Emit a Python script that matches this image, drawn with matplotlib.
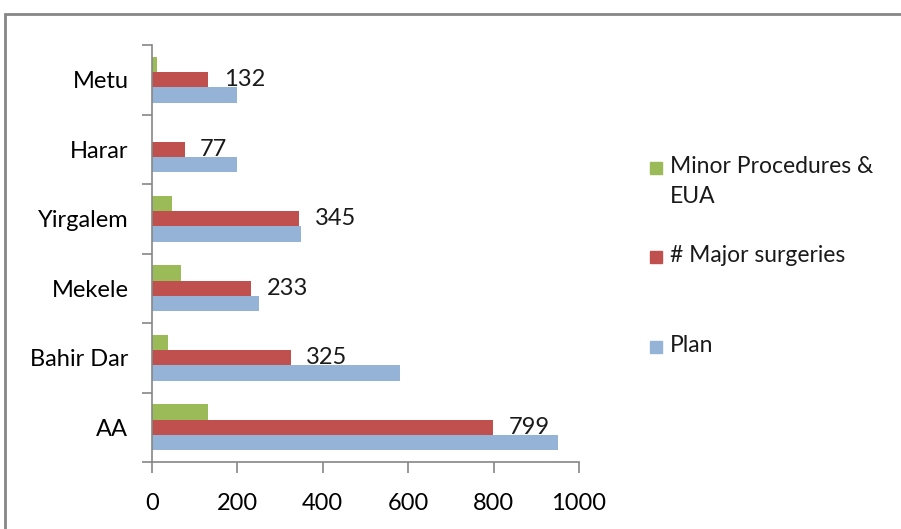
import numpy as np
import matplotlib
matplotlib.use('Agg')
import matplotlib.pyplot as plt
from matplotlib.patches import Rectangle

plt.rcParams['font.family'] = ['Lato', 'DejaVu Sans']

# data, bottom to top
sites = ['AA', 'Bahir Dar', 'Mekele', 'Yirgalem', 'Harar', 'Metu']
plan = [950, 580, 251, 350, 200, 200]
major = [799, 325, 233, 345, 77, 132]
minor = [130, 37, 67, 46, 0, 12]

series_names = ['Minor Procedures &\nEUA', '# Major surgeries', 'Plan']
colors = {'plan': '#95B3D7', 'major': '#C0504D', 'minor': '#9BBB59'}

fig = plt.figure(figsize=(9.01, 5.29), dpi=100)
ax = fig.add_axes([152 / 901, 1 - 462 / 529, (579 - 152) / 901, (462 - 45) / 529])

y = np.arange(len(sites))
h = 0.22
ax.barh(y - h, plan, height=h, color=colors['plan'])
bars = ax.barh(y, major, height=h, color=colors['major'])
ax.barh(y + h, minor, height=h, color=colors['minor'])

ax.bar_label(bars, labels=[str(v) for v in major], padding=11,
             fontsize=17, color='#1a1a1a')

ax.set_xlim(0, 1000)
ax.set_ylim(-0.5, len(sites) - 0.5)
ax.set_xticks(np.arange(0, 1001, 200))
ax.set_yticks(np.arange(-0.5, len(sites), 1.0))
ax.set_yticklabels([])
ax.set_yticks(y, minor=True)
ax.set_yticklabels(sites, minor=True)

gray = '#868686'
for side in ['top', 'right']:
    ax.spines[side].set_visible(False)
for side in ['left', 'bottom']:
    ax.spines[side].set_color(gray)
    ax.spines[side].set_linewidth(1.2)
ax.tick_params(axis='y', which='major', length=7, color=gray, width=1.2)
ax.tick_params(axis='y', which='minor', length=0, labelsize=17, pad=17)
ax.tick_params(axis='x', length=8, color=gray, width=1.2, labelsize=17, pad=14)

# legend drawn by hand so the handle sits on the first line of a wrapped label
leg_colors = [colors['minor'], colors['major'], colors['plan']]
leg_y = [168, 257, 347]
for name, c, yy in zip(series_names, leg_colors, leg_y):
    fig.add_artist(Rectangle((650 / 901, 1 - (yy + 6) / 529), 12 / 901, 12 / 529,
                             transform=fig.transFigure, color=c))
    fig.text(670 / 901, 1 - (yy - 12) / 529, name, fontsize=16.5, va='top',
             ha='left', linespacing=1.55, color='#1a1a1a')

# chart border
fig.add_artist(Rectangle((5 / 901, -0.05), 1.1, 1 - 14 / 529 + 0.05,
                         transform=fig.transFigure, fill=False,
                         edgecolor=gray, linewidth=2))

fig.savefig('out.png', dpi=100)
